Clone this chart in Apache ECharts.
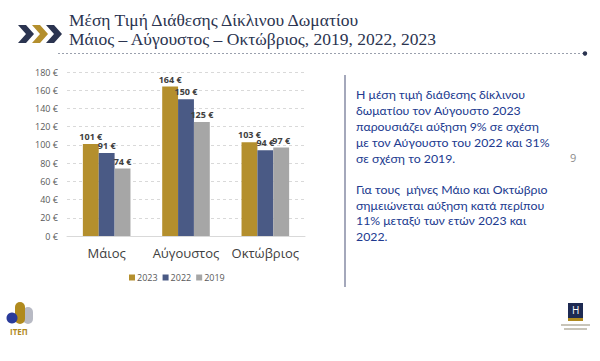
<!DOCTYPE html>
<html><head><meta charset="utf-8">
<script src="https://cdn.jsdelivr.net/npm/echarts@6/dist/echarts.min.js"></script>
<style>html,body{margin:0;padding:0;background:#fff;}#c{width:600px;height:361px;}</style>
</head><body><div id="c"></div>
<script>
var categories = ['Μάιος', 'Αύγουστος', 'Οκτώβριος'];
var seriesNames = ['2023', '2022', '2019'];
var values2023 = [101, 164, 103];
var values2022 = [91, 150, 94];
var values2019 = [74, 125, 97];
var yTicks = [0, 20, 40, 60, 80, 100, 120, 140, 160, 180];
var titleLines = ['Μέση Τιμή Διάθεσης Δίκλινου Δωματίου', 'Μάιος – Αύγουστος – Οκτώβριος, 2019, 2022, 2023'];
var para1 = ['Η μέση τιμή διάθεσης δίκλινου', 'δωματίου τον Αύγουστο 2023', 'παρουσιάζει αύξηση 9% σε σχέση', 'με τον Αύγουστο του 2022 και 31%', 'σε σχέση το 2019.'];
var para2 = ['Για τους  μήνες Μάιο και Οκτώβριο', 'σημειώνεται αύξηση κατά περίπου', '11% μεταξύ των ετών 2023 και', '2022.'];
var pageNumber = '9';

var colors = ['#b48f2d', '#4a5a85', '#a6a6a6'];
var chart = echarts.init(document.getElementById('c'), null, {renderer: 'svg'});
var allValues = [values2023, values2022, values2019];
var series = seriesNames.map(function (n, i) {
  return {
    name: n, type: 'bar', data: allValues[i], barGap: '0%', barCategoryGap: '40%',
    itemStyle: {color: colors[i]},
    label: {show: true, position: 'top', distance: 3, formatter: '{c} €', fontSize: 9, fontWeight: 'bold', color: '#404040', fontFamily: 'Open Sans'}
  };
});
var navy = '#2b3450';
var gold = '#b48f2d';
function chevron(i, fill) {
  var x0 = 18 + i * 14;
  return {type: 'polygon', shape: {points: [[x0,25],[x0+8,25],[x0+16,34],[x0+8,43],[x0,43],[x0+8,34]]}, style: {fill: fill}};
}
var graphics = [
  chevron(0, navy), chevron(1, gold), chevron(2, navy),
  {type: 'text', left: 69, top: 11, style: {text: titleLines[0], font: '17.5px "Liberation Serif"', fill: navy}},
  {type: 'text', left: 69, top: 30, style: {text: titleLines[1], font: '17.5px "Liberation Serif"', fill: navy}},
  {type: 'line', shape: {x1: 58, y1: 53.5, x2: 585, y2: 53.5}, style: {stroke: '#9aa0ad', lineWidth: 1, lineDash: [2, 2]}},
  {type: 'circle', shape: {cx: 585, cy: 53.5, r: 2.2}, style: {fill: navy}},
  {type: 'line', shape: {x1: 345, y1: 75, x2: 345, y2: 287}, style: {stroke: '#a4a8bb', lineWidth: 2}},
  {type: 'text', left: 356, top: 86, style: {text: para1.join('\n'), font: '12.3px Lato', lineHeight: 16, fill: '#213a8f'}},
  {type: 'text', left: 356, top: 182, style: {text: para2.join('\n'), font: '12.3px Lato', lineHeight: 15.5, fill: '#213a8f'}},
  {type: 'text', left: 570, top: 152, style: {text: pageNumber, font: '11px "Open Sans"', fill: '#8c8c8c'}},
  // ITEП logo
  {type: 'rect', shape: {x: 23, y: 307, width: 10, height: 17, r: 5}, style: {fill: '#b8bac4'}},
  {type: 'rect', shape: {x: 15, y: 302, width: 10, height: 22, r: 5}, style: {fill: '#b08a1e'}},
  {type: 'circle', shape: {cx: 12, cy: 318, r: 5.5}, style: {fill: '#2a3b9a'}},
  {type: 'text', left: 10, top: 327, style: {text: 'ITEΠ', font: 'bold 8px "Open Sans"', fill: '#b08a1e'}},
  // H logo
  {type: 'rect', shape: {x: 568, y: 303, width: 15, height: 15}, style: {fill: '#1e2a52'}},
  {type: 'rect', shape: {x: 568, y: 318, width: 15, height: 3}, style: {fill: '#b08a1e'}},
  {type: 'text', left: 572, top: 305, style: {text: 'H', font: '10px "Open Sans"', fill: '#ffffff'}},
  {type: 'rect', shape: {x: 561, y: 324, width: 29, height: 2}, style: {fill: '#c8c4b8'}},
  {type: 'rect', shape: {x: 564, y: 328, width: 23, height: 2}, style: {fill: '#c8c4b8'}}
];
chart.setOption({
  animation: false,
  textStyle: {fontFamily: 'Open Sans'},
  grid: {left: 67, right: 295, top: 72, bottom: 125},
  legend: {data: seriesNames, left: 124, top: 268, itemWidth: 6, itemHeight: 6, itemGap: 5, icon: 'rect',
    textStyle: {fontSize: 9, color: '#595959', padding: [0, 0, 0, -3]}},
  xAxis: {type: 'category', data: categories, axisTick: {show: false},
    axisLine: {lineStyle: {color: '#d9d9d9'}},
    axisLabel: {fontSize: 13, color: '#404040', margin: 10, interval: 0}},
  yAxis: {type: 'value', min: yTicks[0], max: yTicks[yTicks.length - 1], interval: yTicks[1] - yTicks[0],
    axisLabel: {fontSize: 9, color: '#595959', margin: 9, formatter: '{value} €'},
    splitLine: {lineStyle: {color: '#d9d9d9', type: [3, 3]}},
    axisLine: {show: false}, axisTick: {show: false}},
  series: series,
  graphic: graphics
});
</script></body></html>
